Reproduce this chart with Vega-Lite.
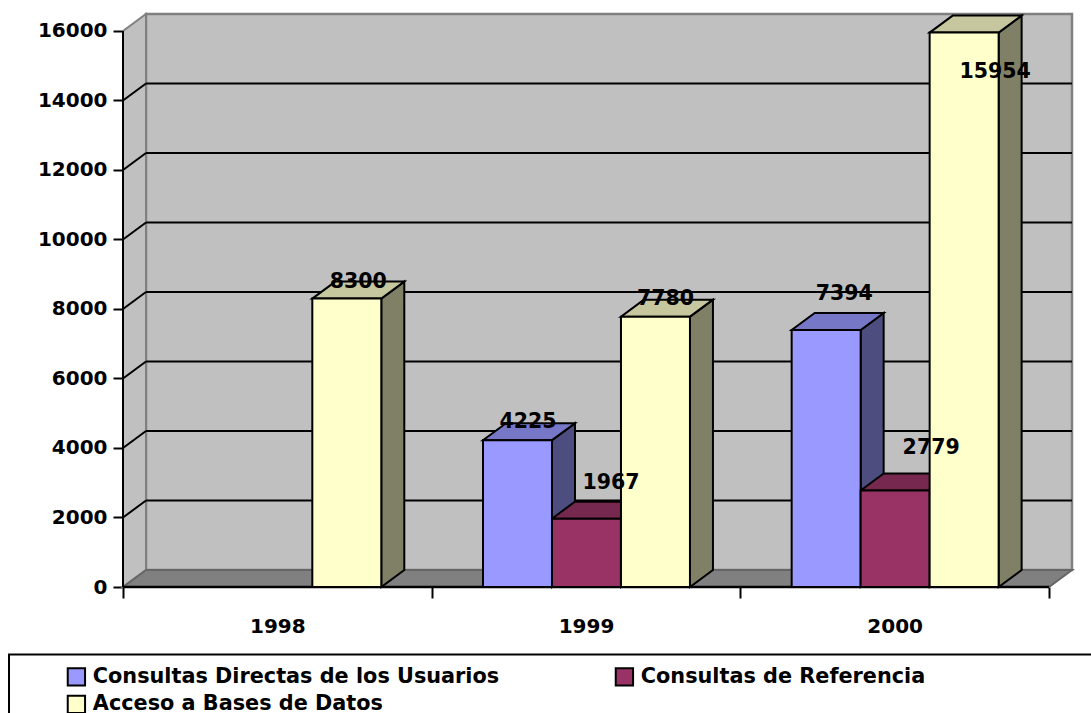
{
"$schema":"https://vega.github.io/schema/vega-lite/v6.json",
"width":949,"height":573,
"autosize":{"type":"none"},
"padding":{"left":123,"top":14,"right":19,"bottom":126},
"background":"white",
"view":{"stroke":null},
"config":{"font":"DejaVu Sans"},
"datasets":{
"barras":[
{"anio":1998,"serie":"Acceso a Bases de Datos","valor":8300},
{"anio":1999,"serie":"Consultas Directas de los Usuarios","valor":4225},
{"anio":1999,"serie":"Consultas de Referencia","valor":1967},
{"anio":1999,"serie":"Acceso a Bases de Datos","valor":7780},
{"anio":2000,"serie":"Consultas Directas de los Usuarios","valor":7394},
{"anio":2000,"serie":"Consultas de Referencia","valor":2779},
{"anio":2000,"serie":"Acceso a Bases de Datos","valor":15954}
],
"grid":[{"v":2000},{"v":4000},{"v":6000},{"v":8000},{"v":10000},{"v":12000},{"v":14000}],
"t":[{"t":0},{"t":1}],
"uno":[{"n":1}]
},
"resolve":{"scale":{"color":"independent"},"axis":{"x":"independent","y":"independent"}},
"layer":[
{"data":{"name":"uno"},
 "mark":{"type":"rect","fill":"#C0C0C0","stroke":"#808080","strokeWidth":2.5},
 "encoding":{
  "x":{"datum":0.0745,"type":"quantitative","scale":{"domain":[0,3.0745],"nice":false,"zero":false},
   "axis":{"title":null,"grid":false,"domain":false,"values":[0,0.5,1,1.5,2,2.5,3],
    "labelExpr":"datum.value==0.5?'1998':datum.value==1.5?'1999':datum.value==2.5?'2000':''",
    "tickColor":{"condition":{"test":"datum.value%1==0","value":"black"},"value":"transparent"},
    "tickSize":11,"tickWidth":2,"labelPadding":18,"labelFont":"DejaVu Sans","labelFontSize":20,"labelFontWeight":"bold","labelColor":"black","labelFlush":false,"labelOverlap":false}},
  "x2":{"datum":3.0745},
  "y":{"datum":489,"type":"quantitative","scale":{"domain":[0,16489],"nice":false,"zero":false},
   "axis":{"title":null,"grid":false,"domain":false,"values":[0,2000,4000,6000,8000,10000,12000,14000,16000],
    "format":"d","tickColor":"black","tickSize":10,"tickWidth":2,"labelPadding":6,"labelFont":"DejaVu Sans","labelFontSize":20,"labelFontWeight":"bold","labelColor":"black"}},
  "y2":{"datum":16489}
 }},
{"data":{"name":"t"},
 "transform":[{"calculate":"datum.t*0.0745","as":"xs"},{"calculate":"datum.t*489","as":"yb"},{"calculate":"16000+datum.t*489","as":"yt"}],
 "mark":{"type":"area","orient":"vertical","fill":"#C0C0C0","stroke":"#808080","strokeWidth":2},
 "encoding":{
  "x":{"field":"xs","type":"quantitative","scale":{"domain":[0,3.0745],"nice":false,"zero":false},"axis":null},
  "y":{"field":"yt","type":"quantitative","scale":{"domain":[0,16489],"nice":false,"zero":false},"axis":null},
  "y2":{"field":"yb"}
 }},
{"data":{"name":"t"},
 "transform":[{"calculate":"datum.t*0.0745","as":"xa"},{"calculate":"3+datum.t*0.0745","as":"xb"},{"calculate":"datum.t*489","as":"yv"}],
 "mark":{"type":"area","orient":"horizontal","fill":"#808080","stroke":"#666666","strokeWidth":2},
 "encoding":{
  "x":{"field":"xa","type":"quantitative","scale":{"domain":[0,3.0745],"nice":false,"zero":false},"axis":null},
  "x2":{"field":"xb"},
  "y":{"field":"yv","type":"quantitative","scale":{"domain":[0,16489],"nice":false,"zero":false},"axis":null}
 }},
{"data":{"name":"grid"},
 "transform":[{"calculate":"datum.v+489","as":"yb"}],
 "mark":{"type":"rule","color":"black","strokeWidth":2},
 "encoding":{
  "x":{"datum":0.0745,"type":"quantitative","scale":{"domain":[0,3.0745],"nice":false,"zero":false},"axis":null},
  "x2":{"datum":3.0745},
  "y":{"field":"yb","type":"quantitative","scale":{"domain":[0,16489],"nice":false,"zero":false},"axis":null}
 }},
{"data":{"name":"grid"},
 "transform":[{"calculate":"datum.v+489","as":"yb"}],
 "mark":{"type":"rule","color":"black","strokeWidth":2},
 "encoding":{
  "x":{"datum":0,"type":"quantitative","scale":{"domain":[0,3.0745],"nice":false,"zero":false},"axis":null},
  "x2":{"datum":0.0745},
  "y":{"field":"v","type":"quantitative","scale":{"domain":[0,16489],"nice":false,"zero":false},"axis":null},
  "y2":{"field":"yb"}
 }},
{"data":{"name":"uno"},
 "mark":{"type":"rule","color":"black","strokeWidth":2},
 "encoding":{
  "x":{"datum":0,"type":"quantitative","scale":{"domain":[0,3.0745],"nice":false,"zero":false},"axis":null},
  "y":{"datum":0,"type":"quantitative","scale":{"domain":[0,16489],"nice":false,"zero":false},"axis":null},
  "y2":{"datum":16000}
 }},
{"data":{"name":"uno"},
 "mark":{"type":"rule","color":"black","strokeWidth":2.5},
 "encoding":{
  "x":{"datum":0,"type":"quantitative","scale":{"domain":[0,3.0745],"nice":false,"zero":false},"axis":null},
  "x2":{"datum":3},
  "y":{"datum":0,"type":"quantitative","scale":{"domain":[0,16489],"nice":false,"zero":false},"axis":null}
 }},
{"data":{"name":"barras"},
 "transform":[
  {"calculate":"datum.anio-1998+0.1663+indexof(['Consultas Directas de los Usuarios','Consultas de Referencia','Acceso a Bases de Datos'],datum.serie)*0.2235","as":"x0"},
  {"calculate":"datum.anio+'|'+datum.serie","as":"clave"},
  {"calculate":"[0,1]","as":"t"},{"flatten":["t"]},
  {"calculate":"datum.x0+0.2235+datum.t*0.0745","as":"xs"},
  {"calculate":"datum.t*489","as":"yb"},
  {"calculate":"datum.valor+datum.t*489","as":"yt"}],
 "mark":{"type":"area","orient":"vertical","stroke":"black","strokeWidth":2},
 "encoding":{
  "x":{"field":"xs","type":"quantitative","scale":{"domain":[0,3.0745],"nice":false,"zero":false},"axis":null},
  "y":{"field":"yt","type":"quantitative","scale":{"domain":[0,16489],"nice":false,"zero":false},"axis":null},
  "y2":{"field":"yb"},
  "detail":{"field":"clave"},
  "color":{"field":"serie","type":"nominal","legend":null,"scale":{"domain":["Consultas Directas de los Usuarios","Consultas de Referencia","Acceso a Bases de Datos"],"range":["#4D4D80","#4D1A33","#808066"]}}
 }},
{"data":{"name":"barras"},
 "transform":[
  {"calculate":"datum.anio-1998+0.1663+indexof(['Consultas Directas de los Usuarios','Consultas de Referencia','Acceso a Bases de Datos'],datum.serie)*0.2235","as":"x0"},
  {"calculate":"datum.anio+'|'+datum.serie","as":"clave"},
  {"calculate":"[0,1]","as":"t"},{"flatten":["t"]},
  {"calculate":"datum.x0+datum.t*0.0745","as":"xa"},
  {"calculate":"datum.x0+0.2235+datum.t*0.0745","as":"xb"},
  {"calculate":"datum.valor+datum.t*489","as":"yt"}],
 "mark":{"type":"area","orient":"horizontal","stroke":"black","strokeWidth":2},
 "encoding":{
  "x":{"field":"xa","type":"quantitative","scale":{"domain":[0,3.0745],"nice":false,"zero":false},"axis":null},
  "x2":{"field":"xb"},
  "y":{"field":"yt","type":"quantitative","scale":{"domain":[0,16489],"nice":false,"zero":false},"axis":null},
  "detail":{"field":"clave"},
  "color":{"field":"serie","type":"nominal","legend":null,"scale":{"domain":["Consultas Directas de los Usuarios","Consultas de Referencia","Acceso a Bases de Datos"],"range":["#7777C7","#77284F","#C6C69F"]}}
 }},
{"data":{"name":"barras"},
 "transform":[
  {"calculate":"datum.anio-1998+0.1663+indexof(['Consultas Directas de los Usuarios','Consultas de Referencia','Acceso a Bases de Datos'],datum.serie)*0.2235","as":"x0"},
  {"calculate":"datum.x0+0.2235","as":"x1"}],
 "mark":{"type":"rect","stroke":"black","strokeWidth":2},
 "encoding":{
  "x":{"field":"x0","type":"quantitative","scale":{"domain":[0,3.0745],"nice":false,"zero":false},"axis":null},
  "x2":{"field":"x1"},
  "y":{"field":"valor","type":"quantitative","scale":{"domain":[0,16489],"nice":false,"zero":false},"axis":null},
  "y2":{"datum":0},
  "color":{"field":"serie","type":"nominal",
   "scale":{"domain":["Consultas Directas de los Usuarios","Acceso a Bases de Datos","Consultas de Referencia"],"range":["#9999FF","#FFFFCC","#993366"]},
   "legend":{"title":null,"orient":"none","legendX":-57,"legendY":652,"columns":2,"columnPadding":111,"rowPadding":1,"padding":0,
    "symbolType":"square","symbolSize":300,"symbolStrokeColor":"black","symbolStrokeWidth":2,"labelOffset":6,
    "labelFont":"DejaVu Sans","labelFontSize":20.8,"labelFontWeight":"bold","labelColor":"black","labelLimit":600}}
 }},
{"data":{"name":"barras"},
 "transform":[
  {"calculate":"datum.anio-1998+0.1663+indexof(['Consultas Directas de los Usuarios','Consultas de Referencia','Acceso a Bases de Datos'],datum.serie)*0.2235+0.11175","as":"xc"}],
 "mark":{"type":"text","font":"DejaVu Sans","fontSize":20.5,"fontWeight":"bold","color":"black","align":"center","baseline":"middle",
  "dx":{"expr":"[11.5,10.5,24.5,10,18,36,31][indexof([8300,4225,1967,7780,7394,2779,15954],datum.valor)]"},
  "dy":{"expr":"[-17,-18,-36,-18,-36,-42,39][indexof([8300,4225,1967,7780,7394,2779,15954],datum.valor)]"}},
 "encoding":{
  "x":{"field":"xc","type":"quantitative","scale":{"domain":[0,3.0745],"nice":false,"zero":false},"axis":null},
  "y":{"field":"valor","type":"quantitative","scale":{"domain":[0,16489],"nice":false,"zero":false},"axis":null},
  "text":{"field":"valor","type":"quantitative","format":"d"}
 }},
{"data":{"name":"uno"},
 "mark":{"type":"rect","fill":null,"stroke":"black","strokeWidth":2},
 "encoding":{
  "x":{"datum":-0.3693,"type":"quantitative","scale":{"domain":[0,3.0745],"nice":false,"zero":false},"axis":null},
  "x2":{"datum":3.2},
  "y":{"datum":-1942,"type":"quantitative","scale":{"domain":[0,16489],"nice":false,"zero":false},"axis":null},
  "y2":{"datum":-4000}
 }}
]
}
